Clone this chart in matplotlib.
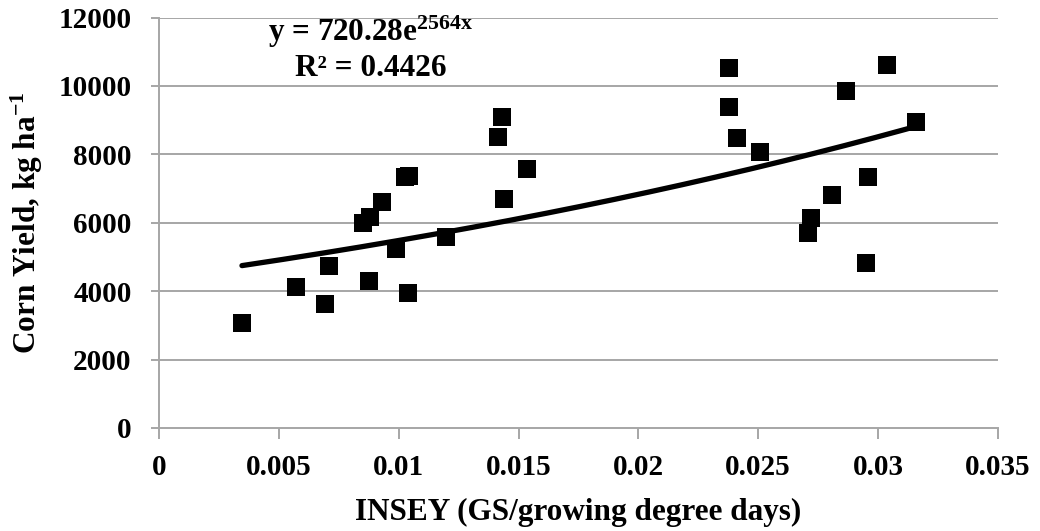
import numpy as np
import matplotlib.pyplot as plt

plt.rcParams['font.family'] = 'Liberation Serif'
plt.rcParams['font.weight'] = 'bold'
plt.rcParams['mathtext.fontset'] = 'custom'
plt.rcParams['mathtext.rm'] = 'Liberation Serif:bold'
plt.rcParams['mathtext.it'] = 'Liberation Serif:bold'
plt.rcParams['mathtext.bf'] = 'Liberation Serif:bold'

# INSEY vs corn yield
insey = [0.00345, 0.00569, 0.00692, 0.00708, 0.00852, 0.00879, 0.00875, 0.00928,
         0.00987, 0.01025, 0.01043, 0.0104, 0.01195, 0.01429, 0.01415, 0.0144,
         0.01533, 0.02378, 0.02378, 0.0241, 0.02507, 0.02709, 0.0272, 0.0281,
         0.02865, 0.02959, 0.02949, 0.03036, 0.03158]
yield_kg = [3060, 4112, 3624, 4743, 5982, 6175, 4296, 6613,
            5222, 7344, 7364, 3936, 5590, 9097, 8513, 6692,
            7569, 10512, 9390, 8466, 8075, 5690, 6128, 6809,
            9848, 7344, 4831, 10608, 8951]

# exponential trendline as it appears in the chart
trend_a = 4400
trend_b = 22.0
eq_text = 'y = 720.28e$\\mathrm{^{2564x}}$'
r2_text = 'R² = 0.4426'

xticks = [0, 0.005, 0.01, 0.015, 0.02, 0.025, 0.03, 0.035]
xticklabels = ['0', '0.005', '0.01', '0.015', '0.02', '0.025', '0.03', '0.035']
yticks = [0, 2000, 4000, 6000, 8000, 10000, 12000]

fig = plt.figure(figsize=(10.4, 5.31), dpi=100)
ax = fig.add_axes([0.1532, 0.194, 0.8061, 0.773])

gray = '#a6a6a6'
for yv in yticks[1:]:
    ax.axhline(yv, color=gray, lw=1.4, zorder=0)

ax.scatter(insey, yield_kg, marker='s', s=13 ** 2, color='black', zorder=3, linewidths=0)

xt = np.linspace(min(insey), max(insey), 200)
ax.plot(xt, trend_a * np.exp(trend_b * xt), color='black', lw=3.8,
        solid_capstyle='round', zorder=4)

ax.set_xlim(0, 0.035)
ax.set_ylim(0, 12000)
ax.set_xticks(xticks)
ax.set_xticklabels(xticklabels)
ax.set_yticks(yticks)

for s in ['top', 'right']:
    ax.spines[s].set_visible(False)
for s in ['left', 'bottom']:
    ax.spines[s].set_color(gray)
    ax.spines[s].set_linewidth(1.4)

ax.tick_params(axis='x', direction='out', length=8, width=1.4, color=gray,
               labelsize=21, pad=11)
ax.tick_params(axis='y', direction='out', length=6, width=1.4, color=gray,
               labelsize=21, pad=14)

ax.set_xlabel('INSEY (GS/growing degree days)', fontsize=22.5, fontweight='bold', labelpad=12)
ax.set_ylabel('Corn Yield, kg ha$\\mathrm{^{-1}}$', fontsize=22.5, fontweight='bold', labelpad=10)

fig.text(371 / 1040, 1 - 32 / 531, eq_text, fontsize=22.5, fontweight='bold',
         ha='center', va='center')
fig.text(371 / 1040, 1 - 68 / 531, r2_text, fontsize=22.5, fontweight='bold',
         ha='center', va='center')

fig.savefig('out.png', dpi=100)
